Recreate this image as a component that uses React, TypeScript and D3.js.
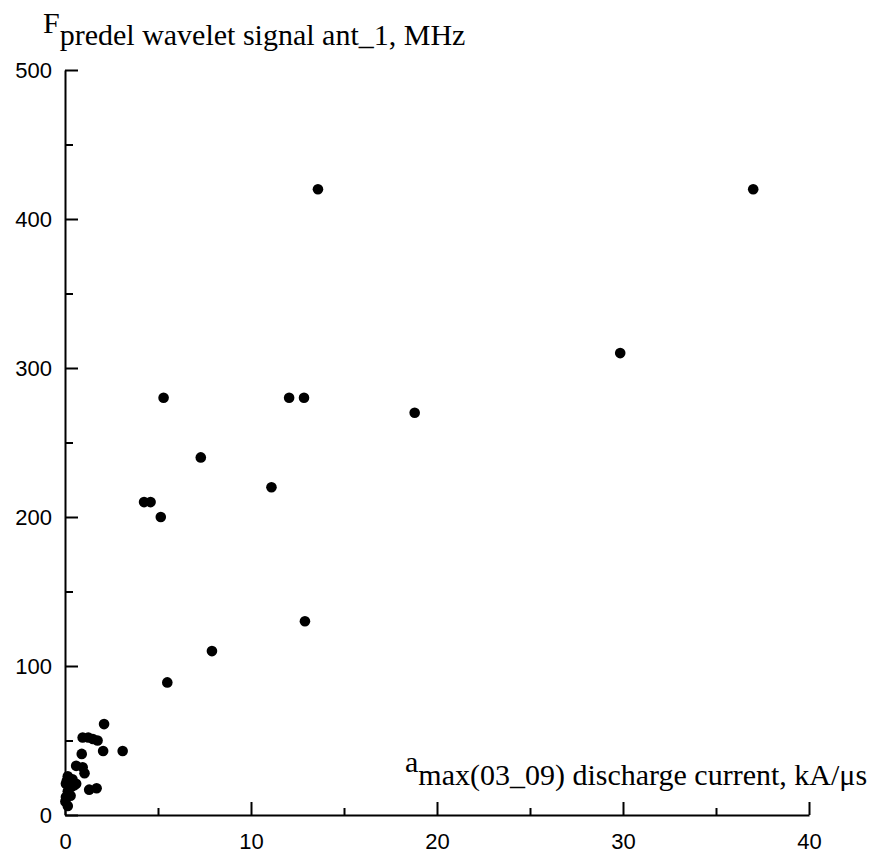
import { useEffect, useRef } from "react";
import { select, scaleLinear, axisLeft, axisRight, axisTop, axisBottom, range } from "d3";

// amax(03_09) discharge current, kA/us
const xValues = [
  5.3, 12.05, 12.85, 18.8, 7.3, 11.1, 4.25, 4.6, 5.15, 12.9, 7.9, 5.5,
  13.6, 37.0, 29.85,
  2.1, 0.95, 1.25, 1.5, 1.75, 2.05, 3.1, 0.9, 0.6, 0.95, 1.05, 1.3, 1.7,
  0.15, 0.4, 0.6, 0.35, 0.05, 0.15, 0.05, 0.02, 0.15, 0.3, 0.5, 0.1,
];
// Fpredel wavelet signal ant_1, MHz
const yValues = [
  280, 280, 280, 270, 240, 220, 210, 210, 200, 130, 110, 89,
  420, 420, 310,
  61, 52, 52, 51, 50, 43, 43, 41, 33, 32, 28, 17, 18,
  26, 24, 21, 19, 21, 16, 12, 9, 6, 13, 20, 23,
];
const xMajorTicks = [0, 10, 20, 30, 40];
const yMajorTicks = [0, 100, 200, 300, 400, 500];

const W = 885;
const H = 853;

const App: React.FC = () => {
  const svgRef = useRef<SVGSVGElement>(null);

  useEffect(() => {
    const svg = select(svgRef.current);
    const xScale: any = scaleLinear().domain([0, 40]).range([65, 809]);
    const yScale: any = scaleLinear().domain([0, 500]).range([815, 70]);

    // minor ticks every half step
    const xMinor = range(5, 40, 10);
    const yMinor = range(50, 500, 100);

    svg.select(".x-minor")
      .attr("transform", `translate(0,${yScale(0)})`)
      .call(axisTop(xScale).tickValues(xMinor).tickSize(7).tickFormat(() => "") as any);
    svg.select(".x-major")
      .attr("transform", `translate(0,${yScale(0)})`)
      .call(axisTop(xScale).tickValues(xMajorTicks).tickSize(13).tickSizeOuter(0).tickFormat(() => "") as any);
    svg.select(".x-labels")
      .attr("transform", `translate(0,${yScale(0)})`)
      .call(axisBottom(xScale).tickValues(xMajorTicks).tickSize(0).tickPadding(18) as any);

    svg.select(".y-minor")
      .attr("transform", `translate(${xScale(0)},0)`)
      .call(axisRight(yScale).tickValues(yMinor).tickSize(8).tickFormat(() => "") as any);
    svg.select(".y-major")
      .attr("transform", `translate(${xScale(0)},0)`)
      .call(axisRight(yScale).tickValues(yMajorTicks).tickSize(13).tickSizeOuter(0).tickFormat(() => "") as any);
    svg.select(".y-labels")
      .attr("transform", `translate(${xScale(0)},0)`)
      .call(axisLeft(yScale).tickValues(yMajorTicks).tickSize(0).tickPadding(13) as any);

    svg.selectAll(".x-labels .domain, .y-labels .domain, .x-minor .domain, .y-minor .domain").remove();
    svg.selectAll(".x-major .domain, .y-major .domain, .tick line")
      .attr("stroke", "#000")
      .attr("stroke-width", 2);
    svg.selectAll(".x-labels text, .y-labels text")
      .attr("font-family", "'Liberation Sans', Arial, sans-serif")
      .attr("font-size", 22)
      .attr("fill", "#000");

    const pts = xValues.map((x, i) => [x, yValues[i]]);
    svg.select(".points")
      .selectAll("circle")
      .data(pts)
      .join("circle")
      .attr("cx", (d: any) => xScale(d[0]))
      .attr("cy", (d: any) => yScale(d[1]))
      .attr("r", 5.3)
      .attr("fill", "#000");
  }, []);

  const serif = "'Liberation Serif', 'Times New Roman', serif";

  return (
    <svg
      ref={svgRef}
      width={W}
      height={H}
      style={{ position: "absolute", left: 0, top: 0, background: "#fff" }}
    >
      <rect width={W} height={H} fill="#fff" />
      <g className="x-minor" />
      <g className="x-major" />
      <g className="x-labels" />
      <g className="y-minor" />
      <g className="y-major" />
      <g className="y-labels" />
      <g className="points" />
      <text x={43} y={33} fontFamily={serif} fontSize={30} fill="#000">
        F<tspan dy={12}>predel wavelet signal ant_1, MHz</tspan>
      </text>
      <text x={405} y={772} fontFamily={serif} fontSize={30} fill="#000">
        a<tspan dy={13}>max(03_09) discharge current, kA/μs</tspan>
      </text>
    </svg>
  );
};

export default App;
